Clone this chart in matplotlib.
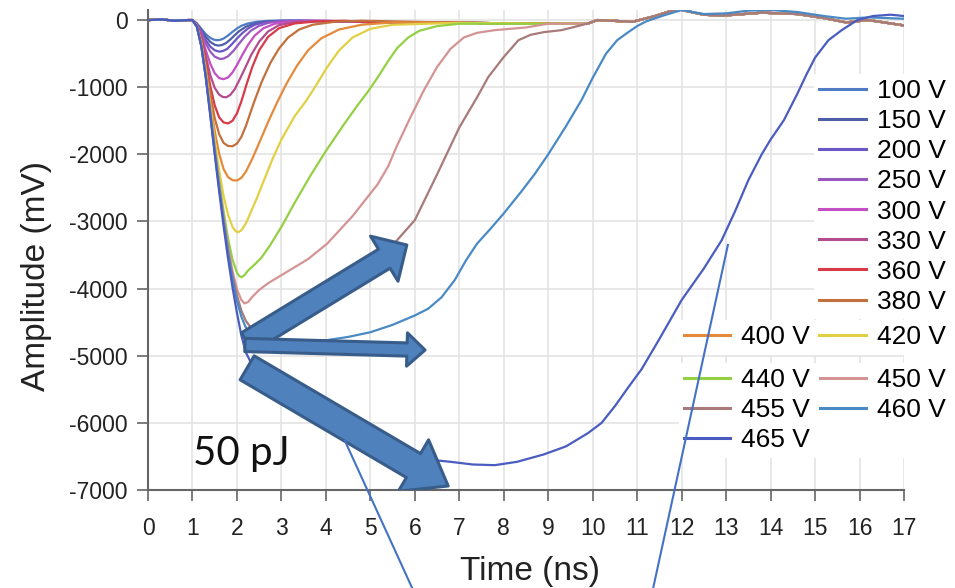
import matplotlib.pyplot as plt
from matplotlib.patches import FancyArrowPatch

plt.rcParams['font.family'] = ['Liberation Sans', 'DejaVu Sans']
plt.rcParams['axes.unicode_minus'] = False

# =============================================================================
# Dados (tempo em ns, amplitude em mV)
# =============================================================================

labels = ['100 V', '150 V', '200 V', '250 V', '300 V', '330 V', '360 V', '380 V',
          '400 V', '420 V', '440 V', '450 V', '455 V', '460 V', '465 V']
colors = ['#4f7cc4', '#4d5fa6', '#6a56c6', '#9858c0', '#c44fc4', '#b24c8e', '#d83a48',
          '#c2703c', '#e58a3a', '#e2d044', '#94d044', '#d49494', '#a87a7a', '#4a8ac4',
          '#4a5cc0']

# linha de base antes do pulso
base_t = [0.0, 0.3, 0.6, 0.9]
base_v = [0, 10, -10, 0]

# patamar e oscilacao depois da recuperacao
tail_t = [5.0, 7.0, 9.0, 9.9, 10.1, 10.9, 11.4, 11.9, 12.5, 12.9, 13.8, 14.6, 15.2, 15.7, 16.2, 17.0]
tail_v = [-30, -40, -55, -50, 0, -25, 60, 165, 80, 65, 110, 90, 30, -35, 0, -80]

t100 = [1.0, 1.1, 1.2, 1.3, 1.4, 1.48, 1.55, 1.62, 1.7, 1.8, 1.9, 2.0, 2.1, 2.25, 2.45, 2.7, 3.0]
v100 = [0, -50, -130, -210, -265, -292, -300, -295, -275, -230, -175, -125, -85, -50, -25, -12, -8]

t150 = [1.0, 1.1, 1.2, 1.3, 1.4, 1.5, 1.58, 1.66, 1.75, 1.85, 1.95, 2.05, 2.2, 2.35, 2.55, 2.8, 3.2]
v150 = [0, -55, -150, -250, -325, -368, -380, -372, -345, -290, -225, -165, -100, -60, -30, -15, -8]

t200 = [1.0, 1.1, 1.2, 1.3, 1.4, 1.5, 1.6, 1.68, 1.78, 1.9, 2.0, 2.12, 2.25, 2.4, 2.6, 2.9, 3.4]
v200 = [0, -60, -170, -300, -395, -450, -470, -462, -430, -350, -275, -195, -125, -70, -35, -15, -8]

t250 = [1.0, 1.1, 1.2, 1.3, 1.4, 1.5, 1.62, 1.7, 1.8, 1.92, 2.05, 2.18, 2.32, 2.5, 2.7, 3.0, 3.6]
v250 = [0, -65, -190, -350, -470, -545, -580, -573, -540, -460, -350, -245, -155, -85, -42, -18, -8]

t300 = [1.0, 1.1, 1.2, 1.3, 1.4, 1.5, 1.6, 1.7, 1.8, 1.9, 2.0, 2.12, 2.25, 2.4, 2.6, 2.85, 3.2, 3.8]
v300 = [0, -70, -230, -450, -650, -790, -865, -880, -855, -780, -670, -520, -370, -230, -120, -55,
        -22, -10]

t330 = [1.0, 1.1, 1.2, 1.3, 1.4, 1.5, 1.6, 1.68, 1.76, 1.85, 1.95, 2.05, 2.18, 2.32, 2.5, 2.7,
        2.95, 3.3, 4.0]
v330 = [0, -75, -260, -540, -820, -1010, -1110, -1145, -1150, -1115, -1030, -900, -720, -520,
        -320, -170, -75, -30, -10]

t360 = [1.0, 1.1, 1.2, 1.3, 1.4, 1.5, 1.6, 1.7, 1.8, 1.9, 2.0, 2.1, 2.22, 2.35, 2.5, 2.7, 2.95,
        3.3, 3.8, 4.4]
v360 = [0, -80, -290, -620, -980, -1270, -1450, -1525, -1540, -1500, -1390, -1210, -950, -690,
        -450, -250, -120, -50, -20, -10]

t380 = [1.0, 1.1, 1.2, 1.3, 1.4, 1.5, 1.6, 1.7, 1.8, 1.9, 2.0, 2.1, 2.2, 2.37, 2.55, 2.75, 2.95,
        3.15, 3.4, 3.7, 4.2, 4.8]
v380 = [0, -85, -310, -680, -1090, -1460, -1700, -1830, -1875, -1880, -1840, -1740, -1580, -1250,
        -930, -640, -420, -260, -140, -70, -25, -10]

t400 = [1.0, 1.1, 1.2, 1.3, 1.4, 1.5, 1.6, 1.7, 1.8, 1.9, 2.0, 2.1, 2.2, 2.35, 2.5, 2.7, 2.9,
        3.12, 3.35, 3.6, 3.9, 4.3, 4.8, 5.5]
v400 = [0, -90, -340, -740, -1200, -1650, -1990, -2220, -2340, -2385, -2390, -2350, -2260, -2060,
        -1830, -1520, -1230, -940, -680, -450, -270, -140, -70, -35]

t420 = [1.0, 1.1, 1.2, 1.3, 1.4, 1.5, 1.6, 1.7, 1.8, 1.9, 1.97, 2.03, 2.1, 2.2, 2.3, 2.45, 2.6,
        2.8, 3.0, 3.3, 3.57, 3.8, 4.03, 4.3, 4.6, 5.0, 5.5]
v420 = [0, -95, -360, -790, -1290, -1790, -2240, -2620, -2900, -3080, -3145, -3160, -3130, -3030,
        -2880, -2650, -2400, -2070, -1780, -1430, -1190, -950, -700, -450, -260, -130, -70]

t440 = [1.0, 1.1, 1.2, 1.3, 1.4, 1.5, 1.6, 1.7, 1.8, 1.9, 2.0, 2.05, 2.1, 2.17, 2.25, 2.4, 2.55,
        2.75, 3.0, 3.3, 3.65, 4.0, 4.4, 4.7, 4.93, 5.16, 5.4, 5.6, 5.85, 6.1, 6.5, 7.0]
v440 = [0, -95, -370, -810, -1330, -1870, -2380, -2850, -3250, -3570, -3760, -3810, -3830, -3800,
        -3730, -3640, -3540, -3350, -3080, -2720, -2320, -1950, -1560, -1280, -1080, -860, -610,
        -420, -260, -160, -90, -55]

t450 = [1.0, 1.1, 1.2, 1.3, 1.4, 1.5, 1.6, 1.7, 1.8, 1.9, 2.0, 2.1, 2.17, 2.25, 2.35, 2.5, 2.7,
        2.95, 3.2, 3.6, 4.03, 4.6, 5.16, 5.4, 5.6, 5.9, 6.2, 6.5, 6.8, 7.1, 7.4, 7.8, 8.5]
v450 = [0, -100, -380, -830, -1360, -1910, -2440, -2930, -3370, -3740, -4010, -4170, -4220, -4200,
        -4120, -4020, -3920, -3820, -3720, -3560, -3330, -2920, -2450, -2180, -1870, -1450, -1050,
        -700, -430, -260, -190, -150, -110]

t455 = [1.0, 1.1, 1.2, 1.3, 1.4, 1.5, 1.6, 1.7, 1.8, 1.9, 2.0, 2.1, 2.2, 2.3, 2.45, 2.7, 3.0,
        3.4, 3.8, 4.2, 4.6, 5.1, 5.6, 6.0, 6.5, 7.0, 7.4, 7.65, 8.0, 8.33, 8.6, 8.9, 9.3]
v455 = [0, -100, -385, -840, -1380, -1930, -2470, -2970, -3420, -3800, -4100, -4330, -4480, -4570,
        -4620, -4610, -4560, -4450, -4320, -4150, -3950, -3650, -3280, -2980, -2300, -1600, -1150,
        -850, -550, -300, -220, -180, -150]

t460 = [1.0, 1.1, 1.2, 1.3, 1.4, 1.5, 1.6, 1.7, 1.8, 1.9, 2.0, 2.1, 2.2, 2.35, 2.5, 2.75, 3.0,
        3.5, 4.0, 4.5, 5.0, 5.5, 6.0, 6.3, 6.6, 6.9, 7.15, 7.4, 7.7, 8.0, 8.4, 8.7, 9.0, 9.4,
        9.75, 10.0, 10.3, 10.55, 10.8, 11.0, 11.2, 11.6, 12.0, 12.5, 13.0, 13.5, 14.0, 14.6,
        15.2, 15.7, 16.2, 17.0]
v460 = [0, -100, -390, -850, -1400, -1960, -2500, -3010, -3470, -3860, -4180, -4420, -4580, -4700,
        -4750, -4780, -4790, -4790, -4770, -4720, -4650, -4540, -4400, -4300, -4130, -3870, -3580,
        -3330, -3110, -2880, -2550, -2290, -2000, -1580, -1190, -860, -500, -300, -180, -90, -20,
        70, 150, 90, 100, 140, 150, 120, 60, 20, 40, 20]

t465 = [1.0, 1.1, 1.2, 1.3, 1.4, 1.5, 1.6, 1.7, 1.8, 1.9, 2.0, 2.1, 2.2, 2.35, 2.5, 2.75, 3.0,
        3.5, 4.0, 4.5, 5.0, 5.5, 6.0, 6.5, 6.8, 7.3, 7.8, 8.3, 8.9, 9.4, 9.9, 10.2, 10.5, 10.8,
        11.1, 11.5, 12.0, 12.5, 12.9, 13.2, 13.5, 13.8, 14.0, 14.3, 14.6, 14.8, 15.0, 15.3,
        15.6, 15.95, 16.3, 16.7, 17.0]
v465 = [0, -100, -395, -860, -1420, -2000, -2550, -3070, -3550, -3980, -4360, -4700, -4950, -5150,
        -5300, -5450, -5570, -5800, -6000, -6200, -6350, -6450, -6520, -6560, -6580, -6620, -6630,
        -6580, -6470, -6350, -6150, -6000, -5750, -5470, -5200, -4750, -4170, -3700, -3280, -2850,
        -2385, -2000, -1780, -1490, -1100, -820, -560, -300, -150, 0, 60, 80, 60]

series_t = [t100, t150, t200, t250, t300, t330, t360, t380, t400, t420, t440, t450, t455, t460, t465]
series_v = [v100, v150, v200, v250, v300, v330, v360, v380, v400, v420, v440, v450, v455, v460, v465]


def full_trace(t, v):
    """Junta linha de base + pulso + cauda (so o que vem depois do pulso)."""
    tt = base_t + t
    vv = base_v + v
    if t[-1] < 17.0:
        for a, b in zip(tail_t, tail_v):
            if a > t[-1] + 0.3:
                tt.append(a)
                vv.append(b)
    return tt, vv


# =============================================================================
# Grafico
# =============================================================================

fig = plt.figure(figsize=(9.55, 5.88), dpi=100)
ax = fig.add_axes([148 / 955, 1 - 490 / 588, (904 - 148) / 955, (490 - 10) / 588])

lines = []
for t, v, c, lab in zip(series_t, series_v, colors, labels):
    tt, vv = full_trace(t, v)
    ln, = ax.plot(tt, vv, color=c, lw=1.6, label=lab)
    lines.append(ln)

ax.set_xlim(0, 17)
ax.set_ylim(-7000, 150)
ax.set_xticks(range(0, 18))
ax.set_yticks(range(-7000, 1, 1000))
ax.grid(True, color='#e4e4e4', lw=1.2)
ax.set_axisbelow(True)
for s in ['top', 'right']:
    ax.spines[s].set_visible(False)
for s in ['left', 'bottom']:
    ax.spines[s].set_color('#666666')
    ax.spines[s].set_linewidth(1.5)
ax.tick_params(direction='out', length=8, width=1.2, color='#666666',
               labelsize=16.5, labelcolor='#222222')
ax.tick_params(axis='x', pad=11.5)
ax.tick_params(axis='y', pad=6.5)

ax.set_xlabel('Time (ns)', fontsize=24, color='#222222')
ax.set_ylabel('Amplitude (mV)', fontsize=24, color='#222222')
ax.xaxis.set_label_coords(0.505, -0.137)
ax.yaxis.set_label_coords(-0.127, 0.446)

# legendas (tres blocos, como no original)
leg_kw = dict(fontsize=19, frameon=True, facecolor='white', edgecolor='none',
              fancybox=False, framealpha=1, handlelength=1.75, handletextpad=0.42,
              borderpad=0.2, labelspacing=0.23, columnspacing=0.35,
              bbox_transform=fig.transFigure, borderaxespad=0)
leg1 = ax.legend(lines[0:8], labels[0:8], loc='upper right',
                 bbox_to_anchor=(951 / 955, 1 - 74 / 588), **leg_kw)
ax.add_artist(leg1)
leg2 = ax.legend(lines[8:10], labels[8:10], loc='upper right', ncol=2,
                 bbox_to_anchor=(951 / 955, 1 - 320 / 588), **leg_kw)
ax.add_artist(leg2)
order = [10, 12, 14, 11, 13]
leg3 = ax.legend([lines[i] for i in order], [labels[i] for i in order], loc='upper right',
                 ncol=2, bbox_to_anchor=(951 / 955, 1 - 363 / 588), **leg_kw)
for leg in (leg1, leg2, leg3):
    for h in leg.get_lines():
        h.set_linewidth(2.2)

# setas de bloco e texto
arrow_fc = '#4f81bd'
arrow_ec = '#385d8a'
arrows = [((2.23, -4800), (5.82, -3350), 'simple,head_length=19,head_width=38,tail_width=16'),
          ((2.18, -4840), (6.23, -4915), 'simple,head_length=13,head_width=24,tail_width=9.5'),
          ((2.23, -5180), (6.75, -6940), 'simple,head_length=29,head_width=43,tail_width=20')]
for a, b, style in arrows:
    ax.add_patch(FancyArrowPatch(a, b, arrowstyle=style, mutation_scale=1,
                                 fc=arrow_fc, ec=arrow_ec, lw=2.2,
                                 shrinkA=0, shrinkB=0, zorder=5))

ax.text(1.01, -6630, '50 pJ', fontsize=29, family=['Lato', 'DejaVu Sans'],
        color='#111111', ha='left', va='baseline')

# linhas de chamada que saem pela parte de baixo
ax.plot([4.43, 5.94], [-6270, -8460], color='#4472c4', lw=1.5, clip_on=False, zorder=6)
ax.plot([13.04, 11.36], [-3350, -8460], color='#4472c4', lw=1.5, clip_on=False, zorder=6)

fig.savefig('out.png', dpi=100)
